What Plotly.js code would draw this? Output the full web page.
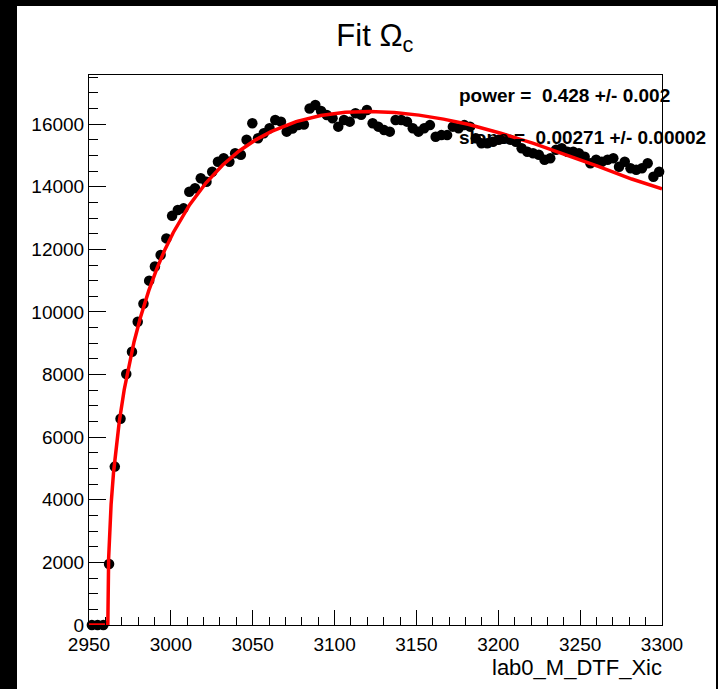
<!DOCTYPE html>
<html>
<head>
<meta charset="utf-8">
<script src="https://cdn.plot.ly/plotly-3.0.1.min.js"></script>
<style>
  html, body { margin: 0; padding: 0; background: #000; width: 718px; height: 689px; overflow: hidden; }
  #chart { position: absolute; left: 17px; top: 6px; width: 699px; height: 683px; background: #fff; }
</style>
</head>
<body>
<div id="chart"></div>
<script>
// Histogram bin centers (bin width 3.5)
const binCenters = [
  2951.75, 2955.25, 2958.75, 2962.25, 2965.75, 2969.25, 2972.75, 2976.25, 2979.75, 2983.25,
  2986.75, 2990.25, 2993.75, 2997.25, 3000.75, 3004.25, 3007.75, 3011.25, 3014.75, 3018.25,
  3021.75, 3025.25, 3028.75, 3032.25, 3035.75, 3039.25, 3042.75, 3046.25, 3049.75, 3053.25,
  3056.75, 3060.25, 3063.75, 3067.25, 3070.75, 3074.25, 3077.75, 3081.25, 3084.75, 3088.25,
  3091.75, 3095.25, 3098.75, 3102.25, 3105.75, 3109.25, 3112.75, 3116.25, 3119.75, 3123.25,
  3126.75, 3130.25, 3133.75, 3137.25, 3140.75, 3144.25, 3147.75, 3151.25, 3154.75, 3158.25,
  3161.75, 3165.25, 3168.75, 3172.25, 3175.75, 3179.25, 3182.75, 3186.25, 3189.75, 3193.25,
  3196.75, 3200.25, 3203.75, 3207.25, 3210.75, 3214.25, 3217.75, 3221.25, 3224.75, 3228.25,
  3231.75, 3235.25, 3238.75, 3242.25, 3245.75, 3249.25, 3252.75, 3256.25, 3259.75, 3263.25,
  3266.75, 3270.25, 3273.75, 3277.25, 3280.75, 3284.25, 3287.75, 3291.25, 3294.75, 3298.25
];
// Entries per bin
const binCounts = [
  0, 0, 0, 1950, 5060, 6590, 8020, 8730, 9690, 10260,
  11000, 11450, 11820, 12350, 13070, 13260, 13310, 13840, 13950, 14270,
  14160, 14480, 14800, 14910, 14800, 15070, 15020, 15500, 16030, 15550,
  15710, 15870, 16130, 16080, 15760, 15860, 15970, 15990, 16500, 16610,
  16420, 16290, 16190, 15920, 16130, 16080, 16350, 16300, 16450, 16030,
  15920, 15810, 15760, 16130, 16130, 16080, 15870, 15760, 15870, 15970,
  15600, 15650, 15650, 15920, 15870, 15970, 15920, 15550, 15390, 15390,
  15440, 15500, 15550, 15500, 15440, 15230, 15120, 15070, 15020, 14860,
  14910, 15180, 15230, 15120, 15120, 15070, 14960, 14750, 14860, 14800,
  14860, 14910, 14640, 14800, 14590, 14540, 14590, 14750, 14320, 14480
];
// Fit curve
const fitX = [2950, 2961.5, 2962, 2962.5, 2963.5, 2965, 2966.5, 2968.5, 2971.5, 2974.5, 2977.5, 2981.5,
  2986.5, 2991.5, 2996.5, 3001.5, 3011.5, 3021.5, 3031.5, 3041.5, 3051.5, 3061.5, 3076.5, 3091.5,
  3106.5, 3121.5, 3136.5, 3151.5, 3166.5, 3181.5, 3201.5, 3221.5, 3241.5, 3261.5, 3281.5, 3300];
const fitY = [0, 0, 2139, 2874, 3856, 4880, 5662, 6503, 7515, 8340, 9041, 9841,
  10681, 11393, 12006, 12540, 13427, 14128, 14688, 15134, 15490, 15770, 16080, 16275,
  16378, 16407, 16372, 16288, 16160, 15996, 15710, 15384, 15026, 14645, 14247, 13934];

const xTickVals = [2950, 3000, 3050, 3100, 3150, 3200, 3250, 3300];
const yTickVals = [0, 2000, 4000, 6000, 8000, 10000, 12000, 14000, 16000];
const fitLabels = ["power =\u00a0\u00a00.428 +/- 0.002", "slope =\u00a0\u00a00.00271 +/- 0.00002"];
const titleText = "Fit \u03A9<sub>c</sub>";
const xTitle = "lab0_M_DTF_Xic";

const font = "Liberation Sans, Arial, Helvetica, sans-serif";

const traces = [
  {
    x: binCenters, y: binCounts, type: "scatter", mode: "markers",
    marker: { color: "#000", size: 10.5, symbol: "circle" },
    cliponaxis: false, hoverinfo: "x+y"
  },
  {
    x: fitX, y: fitY, type: "scatter", mode: "lines",
    line: { color: "#ff0000", width: 3.5 },
    cliponaxis: true, hoverinfo: "x+y"
  }
];

const layout = {
  width: 699, height: 683,
  margin: { l: 72, r: 54, t: 69, b: 64 },
  paper_bgcolor: "#fff", plot_bgcolor: "#fff",
  showlegend: false,
  font: { family: font, color: "#000", size: 19 },
  title: {
    text: titleText, font: { family: font, size: 31, color: "#000" },
    xref: "container", x: 0.512, xanchor: "center",
    yref: "container", y: 0.958, yanchor: "middle"
  },
  xaxis: {
    range: [2950, 3300], tickvals: xTickVals, ticktext: xTickVals.map(String),
    ticks: "inside", ticklen: 15, tickwidth: 1, tickcolor: "#000",
    ticklabelstandoff: 2,
    minor: { dtick: 10, tick0: 2950, ticks: "inside", ticklen: 8, tickcolor: "#000", tickwidth: 1 },
    showline: true, linecolor: "#000", linewidth: 1, mirror: true,
    showgrid: false, zeroline: false,
    tickfont: { family: font, size: 19, color: "#000" }
  },
  yaxis: {
    range: [0, 17570], tickvals: yTickVals, ticktext: yTickVals.map(String),
    ticks: "inside", ticklen: 17, tickwidth: 1, tickcolor: "#000",
    minor: { dtick: 500, tick0: 0, ticks: "inside", ticklen: 9, tickcolor: "#000", tickwidth: 1 },
    showline: true, linecolor: "#000", linewidth: 1, mirror: true,
    showgrid: false, zeroline: false,
    tickfont: { family: font, size: 19, color: "#000" }
  },
  annotations: [
    { text: "<b>" + fitLabels[0] + "</b>", xref: "paper", yref: "paper", x: 0.643, y: 0.962,
      xanchor: "left", yanchor: "middle", showarrow: false,
      font: { family: font, size: 19, color: "#000" } },
    { text: "<b>" + fitLabels[1] + "</b>", xref: "paper", yref: "paper", x: 0.643, y: 0.887,
      xanchor: "left", yanchor: "middle", showarrow: false,
      font: { family: font, size: 19, color: "#000" } },
    { text: xTitle, xref: "paper", yref: "paper", x: 1.003, y: 0, yshift: -42,
      xanchor: "right", yanchor: "middle", showarrow: false,
      font: { family: font, size: 22, color: "#000" } }
  ]
};

Plotly.newPlot("chart", traces, layout, { displayModeBar: false, staticPlot: true });
</script>
</body>
</html>
